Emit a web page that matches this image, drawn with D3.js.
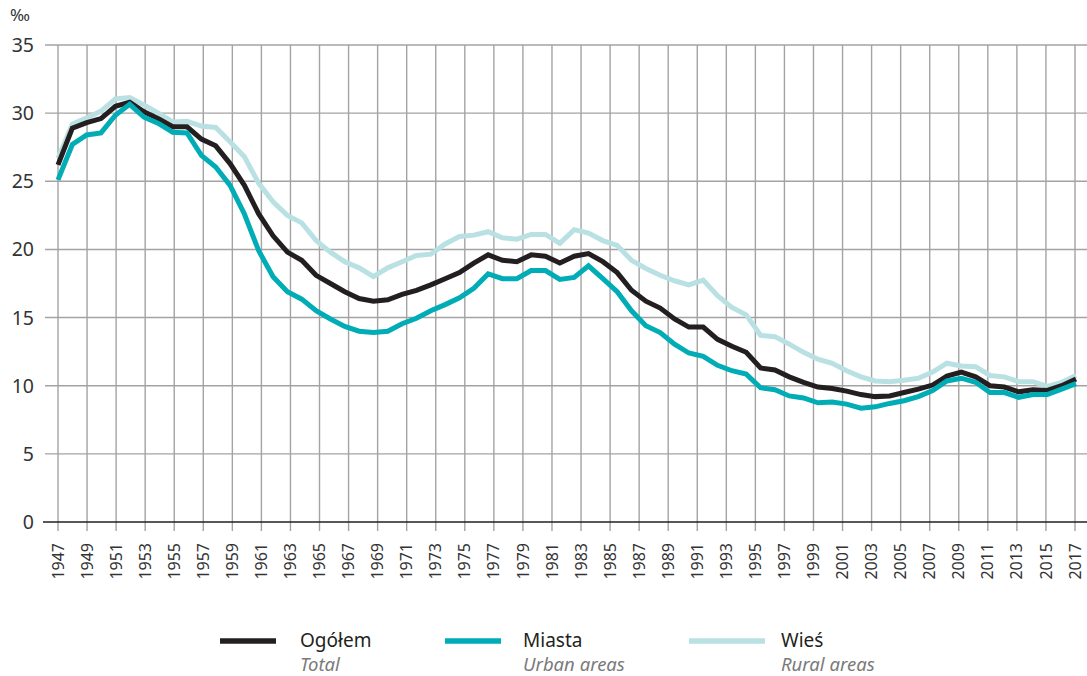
<!DOCTYPE html>
<html>
<head>
<meta charset="utf-8">
<script src="https://cdn.jsdelivr.net/npm/d3@7"></script>
<style>
  body { margin: 0; background: #fff; }
  svg { display: block; font-family: "Noto Sans", "Open Sans", sans-serif; }
  .grid line { stroke: #a3a3a3; stroke-width: 1.4; }
  .ylab { font-size: 19.5px; fill: #333; }
  .xlab { font-size: 16px; fill: #333; }
  .leg-main { font-size: 19px; fill: #231f20; }
  .leg-sub { font-size: 18.5px; fill: #7a7a7a; font-style: italic; }
</style>
</head>
<body>
<svg id="chart"></svg>
<script>
// live births per 1000 population (72 points, drawn across the 1947-2017 axis)
var dataYears = d3.range(1946, 2018);
var total = [26.2, 28.9, 29.3, 29.6, 30.5, 30.8, 30.1, 29.6, 29.0, 29.0, 28.1, 27.6,
  26.3, 24.7, 22.6, 21.0, 19.8, 19.2, 18.1, 17.5, 16.9, 16.4, 16.2, 16.3,
  16.7, 17.0, 17.4, 17.85, 18.3, 19.0, 19.6, 19.2, 19.1, 19.6, 19.5, 19.0,
  19.5, 19.7, 19.1, 18.3, 17.0, 16.2, 15.7, 14.9, 14.3, 14.3, 13.4, 12.9,
  12.45, 11.3, 11.15, 10.65, 10.25, 9.9, 9.8, 9.6, 9.35, 9.2, 9.25, 9.5,
  9.75, 10.05, 10.7, 11.0, 10.65, 10.0, 9.9, 9.55, 9.7, 9.65, 10.0, 10.5];
var urban = [25.1, 27.7, 28.4, 28.55, 29.85, 30.65, 29.7, 29.25, 28.6, 28.55, 26.9, 26.05,
  24.7, 22.6, 19.9, 18.0, 16.9, 16.35, 15.5, 14.9, 14.35, 14.0, 13.9, 14.0,
  14.55, 14.95, 15.5, 15.95, 16.45, 17.15, 18.2, 17.85, 17.85, 18.45, 18.45, 17.8,
  17.95, 18.8, 17.85, 16.9, 15.5, 14.4, 13.9, 13.05, 12.4, 12.15, 11.5, 11.1,
  10.85, 9.85, 9.7, 9.25, 9.1, 8.75, 8.8, 8.65, 8.35, 8.45, 8.7, 8.9,
  9.2, 9.65, 10.35, 10.55, 10.25, 9.5, 9.5, 9.15, 9.35, 9.35, 9.75, 10.15];
var rural = [26.7, 29.2, 29.65, 30.15, 31.05, 31.15, 30.6, 30.0, 29.35, 29.4, 29.05, 28.95,
  27.9, 26.8, 24.85, 23.5, 22.5, 21.95, 20.65, 19.8, 19.1, 18.65, 18.0, 18.65,
  19.1, 19.55, 19.65, 20.4, 20.95, 21.05, 21.3, 20.85, 20.75, 21.1, 21.1, 20.45,
  21.45, 21.2, 20.65, 20.3, 19.2, 18.6, 18.1, 17.7, 17.4, 17.75, 16.6, 15.75,
  15.2, 13.7, 13.6, 13.05, 12.45, 11.95, 11.65, 11.1, 10.65, 10.35, 10.3, 10.4,
  10.55, 11.0, 11.65, 11.45, 11.4, 10.75, 10.65, 10.3, 10.3, 9.95, 10.25, 10.75];

var xTicks = d3.range(1947, 2018, 2);
var yTicks = [0, 5, 10, 15, 20, 25, 30, 35];
var seriesNames = ['Ogółem', 'Miasta', 'Wieś'];
var seriesSubs = ['Total', 'Urban areas', 'Rural areas'];

(function() {
  var W = 1087, H = 676;
  var colors = { 'Ogółem': '#231f20', 'Miasta': '#00adb6', 'Wieś': '#b9e1e3' };
  var values = { 'Ogółem': total, 'Miasta': urban, 'Wieś': rural };

  var x = d3.scaleLinear().domain([1947, 2017]).range([58, 1075]);
  var xLine = d3.scaleLinear().domain([1946, 2017]).range([58, 1076]);
  var y = d3.scaleLinear().domain([0, 35]).range([522, 45]);

  var svg = d3.select('#chart').attr('width', W).attr('height', H);

  // unit
  svg.append('text').attr('x', 10).attr('y', 21)
    .style('font-size', '17px').style('fill', '#333').text('‰');

  // horizontal grid
  svg.append('g').attr('class', 'grid')
    .selectAll('line').data(yTicks.filter(function(v) { return v > 0; }))
    .enter().append('line')
      .attr('x1', 45).attr('x2', W)
      .attr('y1', function(d) { return y(d); })
      .attr('y2', function(d) { return y(d); });

  // vertical grid + ticks below axis
  svg.append('g').attr('class', 'grid')
    .selectAll('line').data(xTicks)
    .enter().append('line')
      .attr('x1', function(d) { return x(d); })
      .attr('x2', function(d) { return x(d); })
      .attr('y1', y(35)).attr('y2', y(0) + 9);

  // zero line
  svg.append('line')
    .attr('x1', 43).attr('x2', W).attr('y1', y(0)).attr('y2', y(0))
    .style('stroke', '#231f20').style('stroke-width', 1.6);

  // y labels
  svg.append('g').selectAll('text').data(yTicks)
    .enter().append('text')
      .attr('class', 'ylab')
      .attr('x', 34).attr('y', function(d) { return y(d); })
      .attr('dy', '0.36em')
      .attr('text-anchor', 'end')
      .text(function(d) { return d; });

  // x labels (rotated)
  svg.append('g').selectAll('text').data(xTicks)
    .enter().append('text')
      .attr('class', 'xlab')
      .attr('transform', function(d) { return 'translate(' + x(d) + ',543) rotate(-90)'; })
      .attr('dy', '0.35em')
      .attr('text-anchor', 'end')
      .text(function(d) { return d; });

  // lines
  var line = d3.line()
    .x(function(d, i) { return xLine(dataYears[i]); })
    .y(function(d) { return y(d); });

  ['Wieś', 'Ogółem', 'Miasta'].forEach(function(name) {
    svg.append('path')
      .datum(values[name])
      .attr('d', line)
      .style('fill', 'none')
      .style('stroke', colors[name])
      .style('stroke-width', 5)
      .style('stroke-linejoin', 'miter');
  });

  // legend
  var legX = [220, 445, 689];
  var leg = svg.append('g').selectAll('g').data(seriesNames)
    .enter().append('g')
      .attr('transform', function(d, i) { return 'translate(' + legX[i] + ',641)'; });
  leg.append('line')
    .attr('x1', 0).attr('x2', function(d, i) { return i === 2 ? 76 : 56; })
    .attr('y1', 0).attr('y2', 0)
    .style('stroke', function(d) { return colors[d]; })
    .style('stroke-width', 5.5);
  leg.append('text').attr('class', 'leg-main')
    .attr('x', function(d, i) { return i === 2 ? 92 : (i === 1 ? 78 : 80); })
    .attr('y', 6)
    .text(function(d) { return d; });
  leg.append('text').attr('class', 'leg-sub')
    .attr('x', function(d, i) { return i === 2 ? 92 : (i === 1 ? 78 : 80); })
    .attr('y', 30)
    .text(function(d, i) { return seriesSubs[i]; });
})();
</script>
</body>
</html>
